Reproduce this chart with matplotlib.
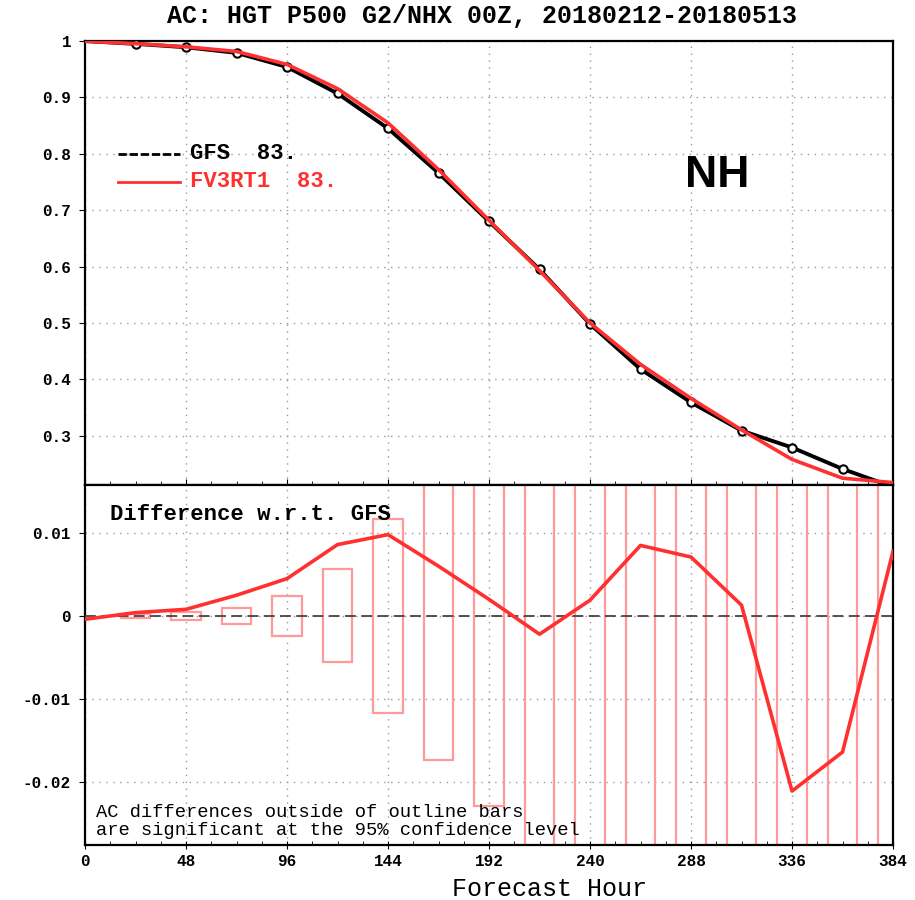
import matplotlib
matplotlib.use('Agg')
import matplotlib.pyplot as plt
from matplotlib.patches import Rectangle

# forecast hours (24h steps)
hours = [0, 24, 48, 72, 96, 120, 144, 168, 192, 216, 240, 264, 288, 312, 336, 360, 384]

# anomaly correlation, GFS
ac_gfs = [1.0, 0.995, 0.989, 0.979, 0.954, 0.907, 0.845, 0.766, 0.680, 0.595,
          0.498, 0.418, 0.359, 0.309, 0.279, 0.241, 0.209]

# FV3RT1 minus GFS
ac_diff = [-0.0004, 0.0004, 0.0008, 0.0025, 0.0045, 0.0086, 0.0098, 0.0060, 0.0020,
           -0.0022, 0.0019, 0.0085, 0.0071, 0.0013, -0.0211, -0.0164, 0.0078]

# half-height of the 95% significance boxes
sig_half = [0.0, 0.0002, 0.0005, 0.0010, 0.0024, 0.0056, 0.0117, 0.0173, 0.0229,
            0.030, 0.036, 0.040, 0.040, 0.040, 0.040, 0.040, 0.040]

ac_fv3 = [g + d for g, d in zip(ac_gfs, ac_diff)]

mono = 'Liberation Mono'
red = '#ff3030'
pink = '#ff9a9a'

fig = plt.figure(figsize=(9.15, 9.0), dpi=100)
ax1 = fig.add_axes([0.0929, 0.4611, 0.8831, 0.4933])
ax2 = fig.add_axes([0.0929, 0.0611, 0.8831, 0.4000])

# ---- upper panel
ax1.plot(hours, ac_gfs, color='black', lw=2.8, marker='o', markersize=6,
         markerfacecolor='white', markeredgecolor='black', markeredgewidth=1.5,
         markevery=list(range(1, len(hours) - 1)), zorder=3)
ax1.plot(hours, ac_fv3, color=red, lw=2.6, zorder=4)
ax1.set_xlim(0, 384)
ax1.set_ylim(0.2125, 1.0)
ax1.set_yticks([0.3, 0.4, 0.5, 0.6, 0.7, 0.8, 0.9, 1.0])
ax1.set_yticklabels(['0.3', '0.4', '0.5', '0.6', '0.7', '0.8', '0.9', '1'])
ax1.set_xticks(range(0, 385, 48))
ax1.set_xticks(range(0, 385, 12), minor=True)
ax1.tick_params(axis='x', labelbottom=False, direction='in', length=4)
ax1.tick_params(axis='x', which='minor', direction='in', length=3)
ax1.grid(True, linestyle=(0, (1, 4)), color='#999999', lw=1)

# legend drawn by hand
ax1.plot([15.5, 45], [0.80, 0.80], color='black', lw=2, linestyle=(0, (3, 1)))
ax1.plot([15.5, 45], [0.75, 0.75], color=red, lw=2)
ax1.text(50, 0.80, 'GFS  83.', fontfamily=mono, fontweight='bold', fontsize=16,
         color='black', va='center')
ax1.text(50, 0.75, 'FV3RT1  83.', fontfamily=mono, fontweight='bold', fontsize=16,
         color=red, va='center')
ax1.text(285, 0.761, 'NH', fontfamily='Liberation Sans', fontweight='bold',
         fontsize=32, color='black', va='center')

# ---- lower panel
for h, s in zip(hours, sig_half):
    if s > 0:
        ax2.add_patch(Rectangle((h - 7, -s), 14, 2 * s, fill=False,
                                edgecolor=pink, lw=1.6, zorder=2))
ax2.axhline(0, color='#444444', lw=1.3, linestyle=(0, (6, 3)), zorder=3)
ax2.plot(hours, ac_diff, color=red, lw=2.6, zorder=4)
ax2.set_xlim(0, 384)
ax2.set_ylim(-0.0276, 0.01578)
ax2.set_yticks([-0.02, -0.01, 0, 0.01])
ax2.set_yticklabels(['-0.02', '-0.01', '0', '0.01'])
ax2.set_xticks(range(0, 385, 48))
ax2.set_xticks(range(0, 385, 12), minor=True)
ax2.tick_params(axis='x', direction='inout', length=6)
ax2.tick_params(axis='x', which='minor', direction='in', length=3)
ax2.grid(True, linestyle=(0, (1, 4)), color='#999999', lw=1)
ax2.text(12, 0.0122, 'Difference w.r.t. GFS', fontfamily=mono, fontweight='bold',
         fontsize=16, va='center')
ax2.text(5, -0.0248, 'AC differences outside of outline bars\nare significant at the 95% confidence level',
         fontfamily=mono, fontsize=13.5, va='center', linespacing=1.1)

for ax in (ax1, ax2):
    for sp in ax.spines.values():
        sp.set_linewidth(1.6)
    ax.tick_params(axis='y', direction='out', length=4, pad=6)
    for lab in ax.get_xticklabels() + ax.get_yticklabels():
        lab.set_fontfamily(mono)
        lab.set_fontweight('bold')
        lab.set_fontsize(11.5)

fig.text(0.527, 0.982, 'AC: HGT P500 G2/NHX 00Z, 20180212-20180513', ha='center',
         va='center', fontfamily=mono, fontweight='bold', fontsize=18)
fig.text(0.60, 0.012, 'Forecast Hour', ha='center', va='center',
         fontfamily=mono, fontsize=18)

fig.savefig('out.png', dpi=100)
